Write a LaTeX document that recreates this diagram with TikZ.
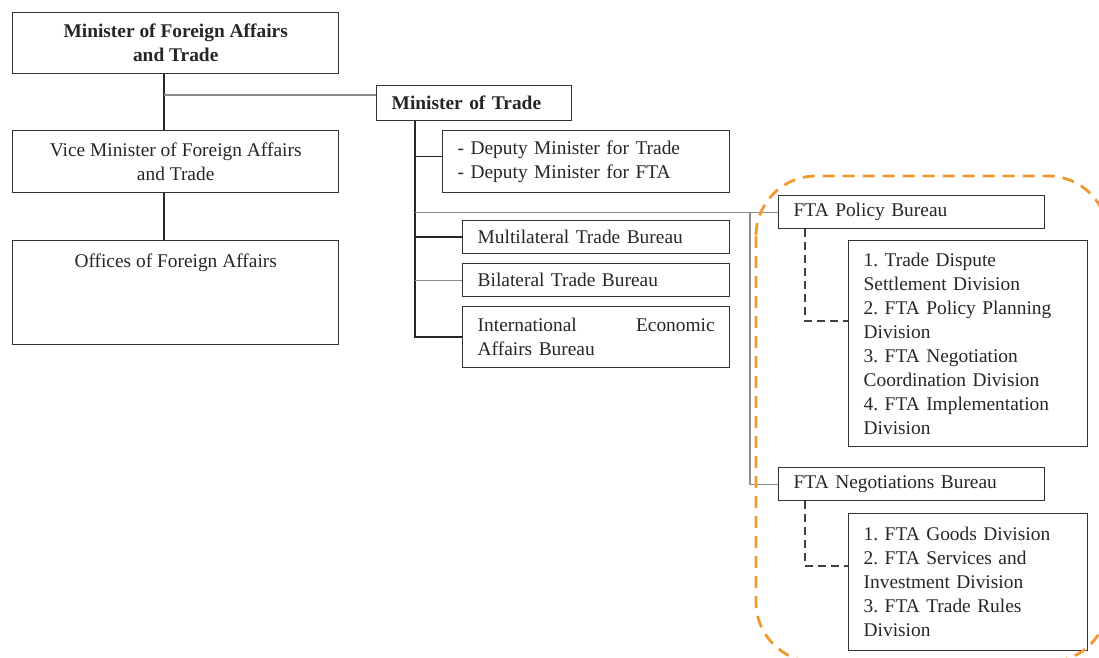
\documentclass[tikz,border=0pt]{standalone}
\usepackage{fontspec}
\setmainfont{Liberation Serif}

\definecolor{ftaorange}{RGB}{242,152,46}
\newcommand{\orgfont}{\fontsize{9.7}{12}\selectfont\frenchspacing}

\begin{document}
\begin{tikzpicture}[x=0.5pt, y=-0.5pt,
    every node/.style={font=\orgfont, text=black!85},
    box/.style={draw=black!80, line width=0.7pt, anchor=north west, inner sep=0pt},
    leftbox/.style={box, align=left, inner xsep=7.5pt},
    link/.style={black!85, line width=0.75pt},
    thinlink/.style={black!45, line width=0.6pt},
    dashlink/.style={black!75, line width=0.7pt, dash pattern=on 4pt off 2.5pt},
    ftagroup/.style={draw=ftaorange, line width=1.4pt, dash pattern=on 6pt off 4pt, rounded corners=30pt}]
        \clip (0,0) rectangle (1099,658);

        % Foreign affairs side
        \node[box, minimum width=163pt, minimum height=30.5pt, align=center, font=\orgfont\bfseries] (mofat) at (12,12) {Minister of Foreign Affairs\\and Trade};
        \node[box, minimum width=163pt, minimum height=31pt, align=center] (vice) at (12,130) {Vice Minister of Foreign Affairs\\and Trade};
        \node[box, minimum width=163pt, minimum height=52pt, text height=7pt, text depth=32pt] (offices) at (12,240) {Offices of Foreign Affairs};

        % Trade side
        \node[leftbox, text width=82.5pt, minimum height=17.5pt, font=\orgfont\bfseries] (mot) at (376,85) {Minister of Trade};
        \node[leftbox, text width=128.5pt, minimum height=31pt] (deputy) at (442,130) {- Deputy Minister for Trade\\- Deputy Minister for FTA};
        \node[leftbox, text width=118.5pt, minimum height=16.5pt] (multi) at (462,220) {Multilateral Trade Bureau};
        \node[leftbox, text width=118.5pt, minimum height=16.5pt] (bilat) at (462,263) {Bilateral Trade Bureau};
        \node[leftbox, text width=118.5pt, minimum height=30.5pt] (intl) at (462,306) {International\hskip 0pt plus 1fill Economic\\Affairs Bureau};

        % FTA bureaus
        \node[leftbox, text width=118pt, minimum height=16.5pt] (policy) at (778,195) {FTA Policy Bureau};
        \node[leftbox, text width=104.5pt, minimum height=103pt] (poldiv) at (848,240) {1. Trade Dispute\\Settlement Division\\2. FTA Policy Planning\\Division\\3. FTA Negotiation\\Coordination Division\\4. FTA Implementation\\Division};
        \node[leftbox, text width=118pt, minimum height=16.5pt] (nego) at (778,467) {FTA Negotiations Bureau};
        \node[leftbox, text width=104.5pt, minimum height=68.5pt] (negdiv) at (848,513) {1. FTA Goods Division\\2. FTA Services and\\Investment Division\\3. FTA Trade Rules\\Division};

        % Foreign affairs lines
        \coordinate (spine) at (164,95);
        \draw[link] (spine |- mofat.south) -- (spine |- vice.north);
        \draw[link] (spine |- vice.south) -- (spine |- offices.north);
        \draw[thinlink] (spine) -- (spine -| mot.west);

        % Trade lines
        \coordinate (trunk) at (415,0);
        \coordinate (deplink) at ([yshift=2.5pt]deputy.west);
        \draw[link] (trunk |- mot.south) |- (intl.west);
        \draw[link] (trunk |- deplink) -- (deplink);
        \draw[link] (trunk |- multi.west) -- (multi.west);
        \draw[thinlink] (trunk |- bilat.west) -- (bilat.west);
        \draw[thinlink] (trunk |- policy.west) -- (policy.west);
        \coordinate (ftaline) at (750,0);
        \draw[thinlink] (ftaline |- policy.west) |- (nego.west);

        % Divisions
        \coordinate (polbranch) at (805,321);
        \draw[dashlink] (polbranch |- policy.south) |- (poldiv.west |- polbranch);
        \coordinate (negbranch) at (805,566);
        \draw[dashlink] (negbranch |- nego.south) |- (negdiv.west |- negbranch);

        % FTA group
        \draw[ftagroup] (756,176) rectangle (1108,662);
\end{tikzpicture}
\end{document}
